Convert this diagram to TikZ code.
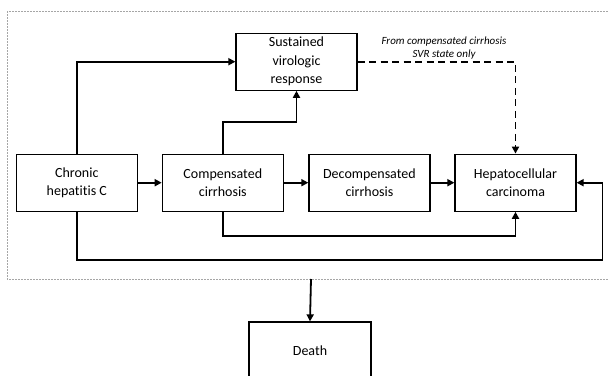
\documentclass[tikz,border=0pt]{standalone}
\usepackage{fontspec}
\setmainfont{Carlito}[Ligatures=NoCommon]
\usetikzlibrary{arrows.meta}
\tikzset{
  state/.style={draw,line width=1.2pt,minimum width=121pt,minimum height=57pt,
    align=center,font=\fontsize{14}{18.5}\selectfont,inner sep=0pt},
  flow/.style={line width=1.8pt,-{Triangle[length=7pt,width=7pt]}},
  svrflow/.style={flow,dash pattern=on 7pt off 4.5pt}
}
\begin{document}
\begin{tikzpicture}[x=1pt,y=-1pt]
\useasboundingbox (0,0) rectangle (608,375);
\draw[gray!70,line width=0.7pt,dash pattern=on 2pt off 1pt] (7,11) rectangle (614,279);
\coordinate (framebot) at (311,279);
\node[state] (chc) at (76.8,182.7) {Chronic\\hepatitis C};
\node[state] (cc) at (222.8,182.7) {Compensated\\cirrhosis};
\node[state] (dc) at (369.4,182.7) {Decompensated\\cirrhosis};
\node[state] (hcc) at (515.5,182.7) {Hepatocellular\\carcinoma};
\node[state] (svr) at (296.5,61.7) {Sustained\\virologic\\response};
\node[state,minimum width=122pt] (death) at (310,350.5) {Death};
\node[font=\fontsize{11}{12.6}\selectfont\itshape,align=center] (note) at (444,48)
  {From compensated cirrhosis\\SVR state only};
\draw[flow] (chc) -- (cc);
\draw[flow] (cc) -- (dc);
\draw[flow] (dc) -- (hcc);
\draw[flow] (chc.north) |- (svr.west);
\draw[flow] (cc.north) -- ++(0,-31.5) -| (svr.south);
\draw[svrflow] (svr.east) -| (hcc.north);
\draw[flow] (cc.south) -- ++(0,24.5) -| (hcc.south);
\draw[flow] (chc.south) -- ++(0,47.8) -| ([xshift=25.8pt]hcc.east) -- (hcc.east);
\draw[flow] (framebot) -- (death.north);
\end{tikzpicture}
\end{document}
